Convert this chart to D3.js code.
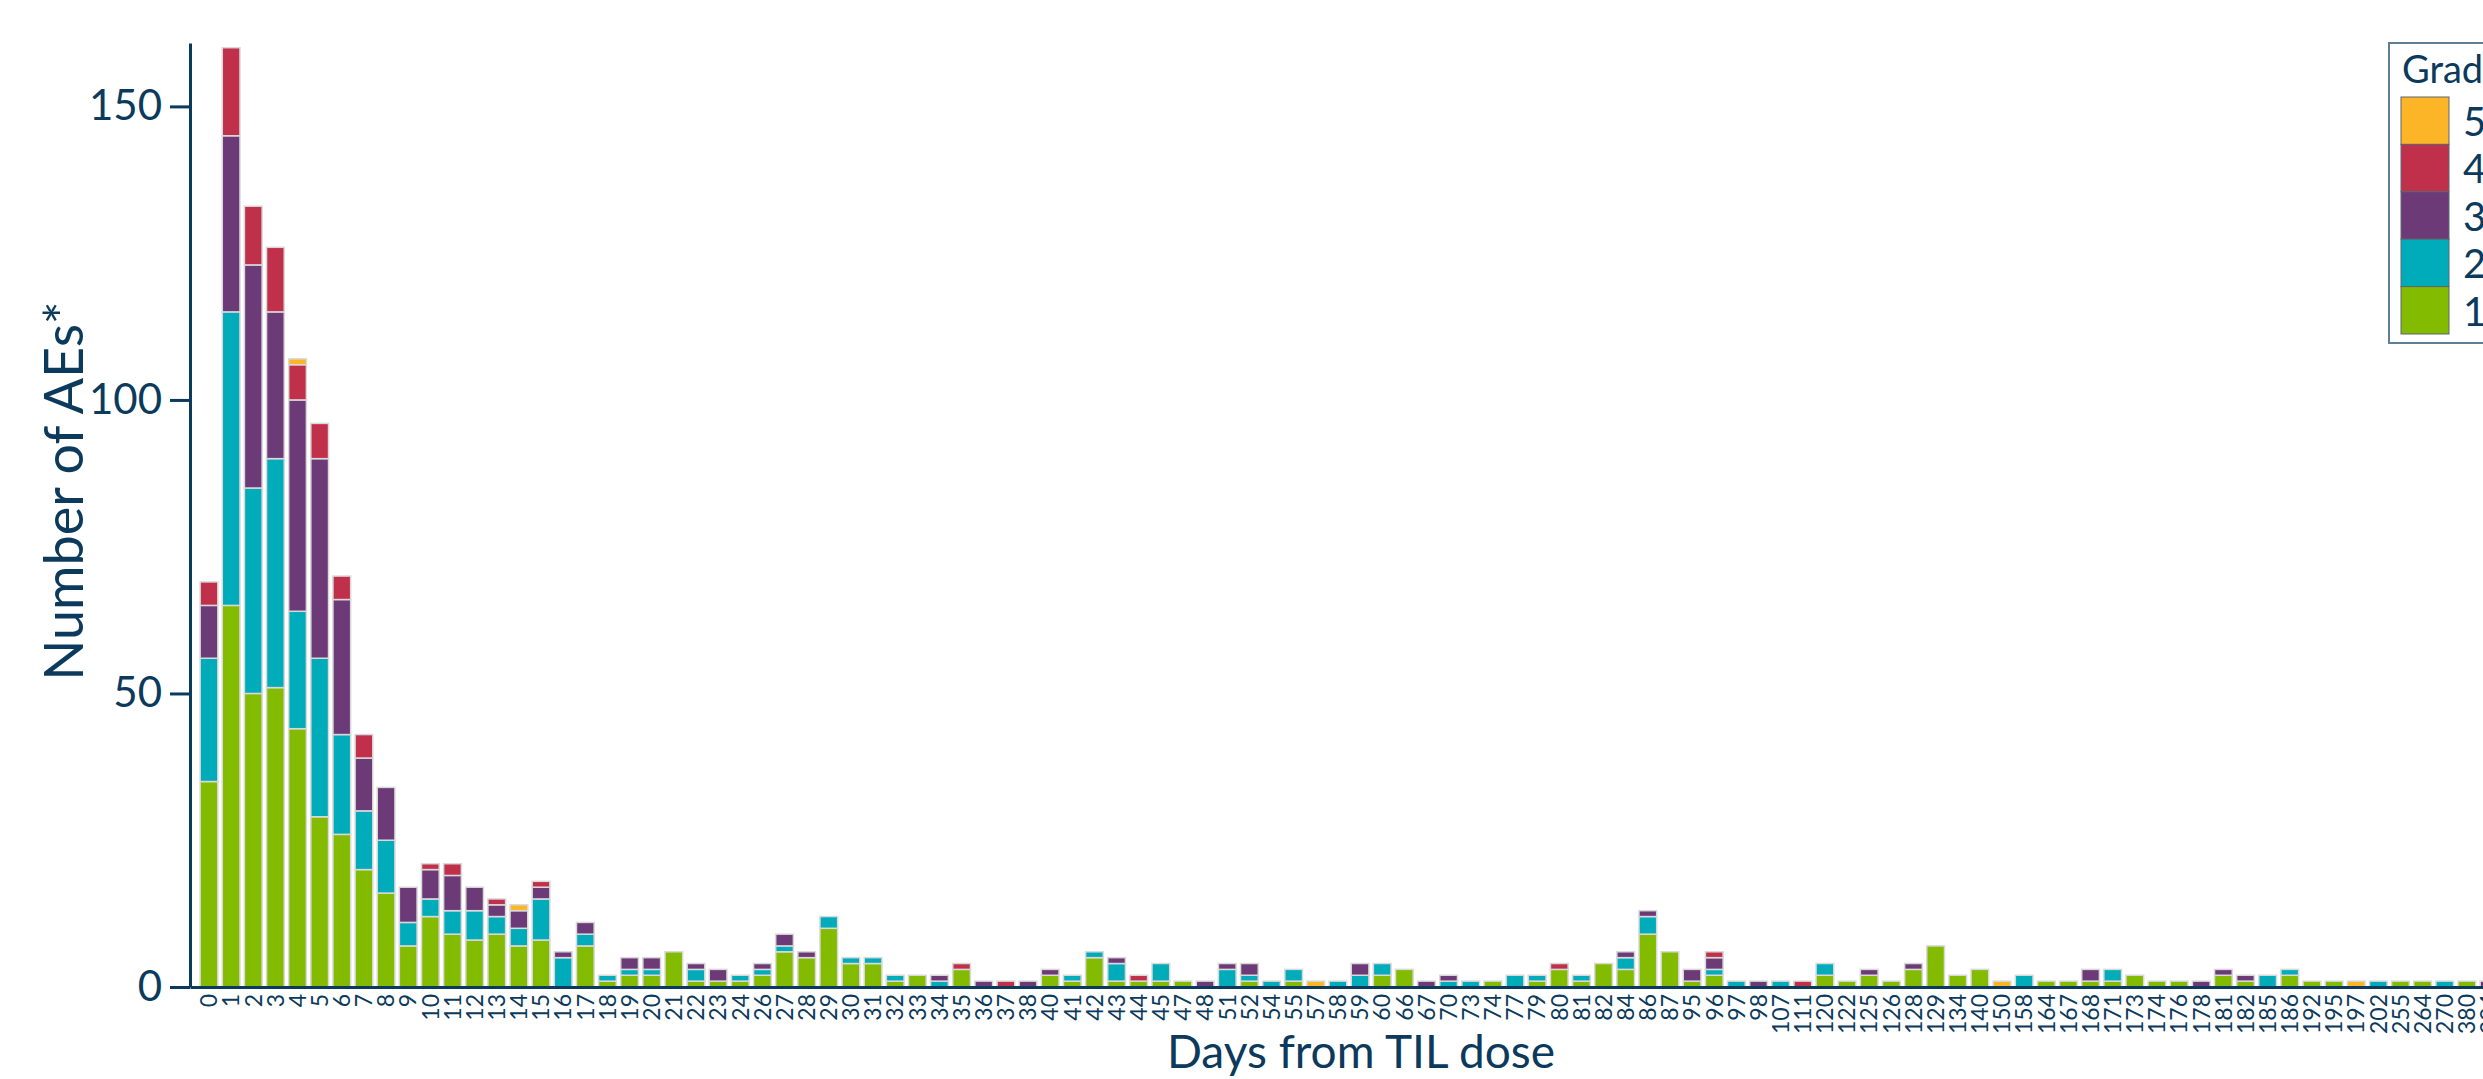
<!DOCTYPE html>
<html>
<head>
<meta charset="utf-8">
<script src="https://cdn.jsdelivr.net/npm/d3@7"></script>
<style>
  html, body { margin: 0; padding: 0; background: #ffffff; overflow: hidden; }
  svg { display: block; font-family: Lato, "Open Sans", sans-serif; }
</style>
</head>
<body>
<svg id="chart" width="2483" height="1079"></svg>
<script>
// ---- data ----
const days = [
  "0","1","2","3","4","5","6","7","8","9","10","11","12","13","14","15","16","17","18","19","20","21","22","23","24",
  "26","27","28","29","30","31","32","33","34","35","36","37","38",
  "40","41","42","43","44","45","47","48","51","52","54","55","57","58","59","60",
  "66","67","70","73","74","77","79","80","81","82","84","86","87","95","96","97","98",
  "107","111","120","122","125","126","128","129","134","140","150","158","164","167","168",
  "171","173","174","176","178","181","182","185","186","192","195","197","202","255","264","270","380","394"
];
const grade1 = [
  35,65,50,51,44,29,26,20,16,7,12,9,8,9,7,8,0,7,1,2,2,6,1,1,1,
  2,6,5,10,4,4,1,2,0,3,0,0,0,
  2,1,5,1,1,1,1,0,0,1,0,1,0,0,0,2,
  3,0,0,0,1,0,1,3,1,4,3,9,6,1,2,0,0,
  0,0,2,1,2,1,3,7,2,3,0,0,1,1,1,
  1,2,1,1,0,2,1,0,2,1,1,0,0,1,1,0,1,0
];
const grade2 = [
  21,50,35,39,20,27,17,10,9,4,3,4,5,3,3,7,5,2,1,1,1,0,2,0,1,
  1,1,0,2,1,1,1,0,1,0,0,0,0,
  0,1,1,3,0,3,0,0,3,1,1,2,0,1,2,2,
  0,0,1,1,0,2,1,0,1,0,2,3,0,0,1,1,0,
  1,0,2,0,0,0,0,0,0,0,0,2,0,0,0,
  2,0,0,0,0,0,0,2,1,0,0,0,1,0,0,1,0,0
];
const grade3 = [
  9,30,38,25,36,34,23,9,9,6,5,6,4,2,3,2,1,2,0,2,2,0,1,2,0,
  1,2,1,0,0,0,0,0,1,0,1,0,1,
  1,0,0,1,0,0,0,1,1,2,0,0,0,0,2,0,
  0,1,1,0,0,0,0,0,0,0,1,1,0,2,2,0,1,
  0,0,0,0,1,0,1,0,0,0,0,0,0,0,2,
  0,0,0,0,1,1,1,0,0,0,0,0,0,0,0,0,0,1
];
const grade4 = [
  4,15,10,11,6,6,4,4,0,0,1,2,0,1,0,1,0,0,0,0,0,0,0,0,0,
  0,0,0,0,0,0,0,0,0,1,0,1,0,
  0,0,0,0,1,0,0,0,0,0,0,0,0,0,0,0,
  0,0,0,0,0,0,0,1,0,0,0,0,0,0,1,0,0,
  0,1,0,0,0,0,0,0,0,0,0,0,0,0,0,
  0,0,0,0,0,0,0,0,0,0,0,0,0,0,0,0,0,0
];
const grade5 = [
  0,0,0,0,1,0,0,0,0,0,0,0,0,0,1,0,0,0,0,0,0,0,0,0,0,
  0,0,0,0,0,0,0,0,0,0,0,0,0,
  0,0,0,0,0,0,0,0,0,0,0,0,1,0,0,0,
  0,0,0,0,0,0,0,0,0,0,0,0,0,0,0,0,0,
  0,0,0,0,0,0,0,0,0,0,1,0,0,0,0,
  0,0,0,0,0,0,0,0,0,0,0,1,0,0,0,0,0,0
];
const gradeKeys = ["1","2","3","4","5"];
const gradeColors = ["#83bb00","#00acba","#6d3a78","#c1304a","#fbb526"];
const yTicks = [0, 50, 100, 150];
const legendTitle = "Grade";
const yTitle = "Number of AEs*";
const xTitle = "Days from TIL dose";

// ---- build table ----
const series = [grade1, grade2, grade3, grade4, grade5];
const table = days.map((d, i) => {
  const row = { day: d };
  gradeKeys.forEach((k, j) => row[k] = series[j][i]);
  return row;
});
const stacked = d3.stack().keys(gradeKeys)(table);

// ---- layout ----
const navy = "#0b3a5c";
const svg = d3.select("#chart");
const plotLeft = 190, plotBottom = 987, plotTop = 43;
const x = d3.scaleBand().domain(days).range([plotLeft, 2508]).paddingInner(0.2).paddingOuter(0.458);
const y = d3.scaleLinear().domain([0, 160.8]).range([plotBottom, plotTop]);
const color = d3.scaleOrdinal().domain(gradeKeys).range(gradeColors);

// bars
svg.append("g").selectAll("g").data(stacked).join("g")
  .attr("fill", d => color(d.key))
  .selectAll("rect")
  .data(d => d.filter(s => s[1] - s[0] > 0))
  .join("rect")
  .attr("x", d => x(d.data.day))
  .attr("width", x.bandwidth())
  .attr("y", d => y(d[1]))
  .attr("height", d => y(d[0]) - y(d[1]))
  .attr("stroke", "#d9d9d9")
  .attr("stroke-width", 1.5);

// y axis
const yAxis = svg.append("g")
  .attr("transform", `translate(${plotLeft},0)`)
  .call(d3.axisLeft(y).tickValues(yTicks).tickSize(20).tickSizeOuter(0).tickPadding(8).tickFormat(d3.format("d")));
yAxis.select(".domain").attr("stroke", navy).attr("stroke-width", 3);
yAxis.selectAll(".tick line").attr("stroke", navy).attr("stroke-width", 3);
yAxis.selectAll(".tick text").attr("fill", navy).style("font-size", "42px").style("font-family", "Lato, sans-serif");

// x axis
const xAxis = svg.append("g")
  .attr("transform", `translate(0,${plotBottom})`)
  .call(d3.axisBottom(x).tickSize(0).tickSizeOuter(0));
xAxis.select(".domain").attr("stroke", navy).attr("stroke-width", 3);
xAxis.selectAll(".tick text")
  .attr("fill", navy)
  .style("font-size", "23px")
  .style("font-family", "Lato, sans-serif")
  .attr("transform", "rotate(-90)")
  .attr("text-anchor", "end")
  .attr("x", -7)
  .attr("y", 0)
  .attr("dy", "0.36em");

// axis titles
svg.append("text")
  .attr("transform", `translate(62,491) rotate(-90)`)
  .attr("text-anchor", "middle")
  .attr("dominant-baseline", "central")
  .attr("fill", navy)
  .style("font-size", "54px")
  .text(yTitle);

svg.append("text")
  .attr("x", 1361)
  .attr("y", 1068)
  .attr("text-anchor", "middle")
  .attr("fill", navy)
  .style("font-size", "46px")
  .text(xTitle);

// legend
const lg = svg.append("g").attr("transform", "translate(2389,43)");
lg.append("rect").attr("x", 0).attr("y", 0).attr("width", 200).attr("height", 300)
  .attr("fill", "#ffffff").attr("stroke", "#5f7f96").attr("stroke-width", 2);
lg.append("text").attr("x", 13).attr("y", 40).attr("fill", navy).style("font-size", "38px").text(legendTitle);
const legendKeys = gradeKeys.slice().reverse();
const li = lg.selectAll("g.item").data(legendKeys).join("g").attr("class", "item")
  .attr("transform", (d, i) => `translate(12,${54 + i * 47.4})`);
li.append("rect").attr("width", 48).attr("height", 47.4)
  .attr("fill", d => color(d)).attr("stroke", "#5a6670").attr("stroke-width", 1);
li.append("text").attr("x", 62).attr("y", 24).attr("dominant-baseline", "central")
  .attr("fill", navy).style("font-size", "40px").text(d => d);
</script>
</body>
</html>
